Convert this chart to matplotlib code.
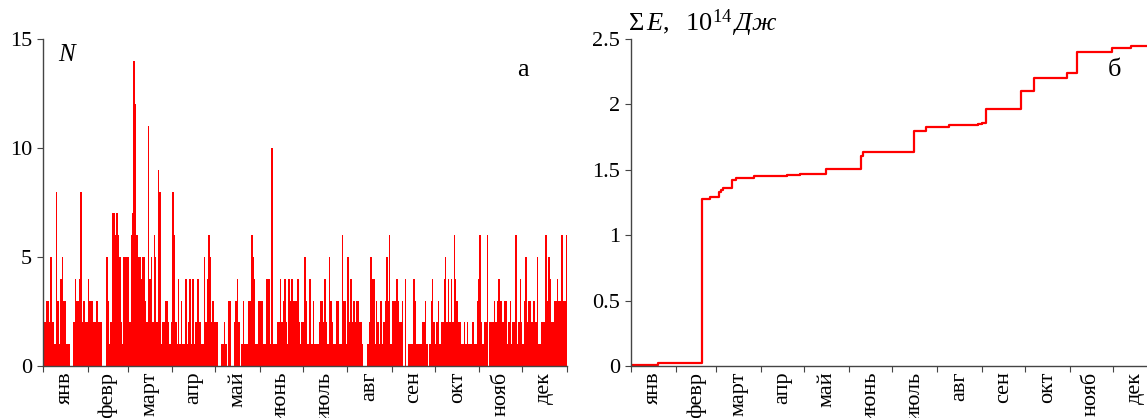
import matplotlib
matplotlib.use("Agg")
import matplotlib.pyplot as plt
import numpy as np

plt.rcParams['font.family'] = ['Liberation Serif', 'DejaVu Serif']
plt.rcParams['mathtext.fontset'] = 'custom'
plt.rcParams['mathtext.rm'] = 'Liberation Serif'
plt.rcParams['mathtext.it'] = 'Liberation Serif:italic'

months = ["янв", "февр", "март", "апр", "май", "июнь",
          "июль", "авг", "сен", "окт", "нояб", "дек"]
month_days = [31, 28, 31, 30, 31, 30, 31, 31, 30, 31, 30, 31]

# daily number of events N
n_jan = [2, 2, 3, 3, 2, 5, 2, 2, 1, 8, 3, 1, 4, 5, 3, 3, 1, 1, 1, 0,
         0, 2, 4, 3, 3, 4, 8, 2, 3, 2, 2]
n_feb = [4, 3, 3, 3, 2, 2, 3, 2, 2, 2, 0, 0, 0, 5, 3, 1, 2, 7, 7, 6,
         7, 6, 5, 2, 1, 5, 5, 5]
n_mar = [5, 2, 6, 7, 14, 12, 6, 5, 5, 4, 5, 5, 3, 2, 11, 4, 5, 2, 6, 5,
         2, 9, 8, 1, 2, 2, 3, 3, 2, 1, 2]
n_apr = [8, 6, 2, 1, 4, 1, 3, 1, 1, 4, 1, 2, 4, 1, 4, 1, 2, 4, 4, 2,
         1, 1, 5, 2, 4, 6, 5, 2, 3, 2]
n_may = [2, 2, 0, 0, 1, 1, 2, 1, 0, 3, 3, 0, 0, 2, 3, 4, 2, 0, 1, 3,
         1, 1, 1, 3, 3, 6, 5, 4, 1, 1, 3]
n_jun = [3, 3, 1, 1, 4, 4, 4, 1, 10, 1, 1, 1, 2, 2, 4, 2, 3, 4, 2, 1,
         4, 3, 4, 3, 3, 3, 4, 2, 1, 2]
n_jul = [2, 5, 3, 1, 4, 4, 1, 3, 1, 1, 1, 2, 3, 3, 2, 4, 2, 1, 5, 3,
         2, 1, 1, 3, 3, 1, 1, 6, 3, 3, 1]
n_aug = [5, 2, 4, 2, 3, 2, 3, 3, 2, 2, 1, 0, 0, 0, 1, 2, 5, 4, 4, 1,
         3, 2, 1, 3, 1, 2, 3, 5, 3, 6, 1]
n_sep = [3, 3, 3, 4, 3, 2, 2, 3, 0, 4, 0, 1, 1, 1, 1, 4, 3, 1, 1, 1,
         1, 2, 2, 3, 1, 0, 1, 3, 4, 2]
n_oct = [1, 2, 3, 1, 2, 2, 4, 5, 2, 4, 2, 4, 2, 6, 4, 3, 2, 2, 1, 1,
         2, 1, 2, 1, 1, 1, 2, 1, 1, 3, 4]
n_nov = [6, 2, 1, 2, 2, 6, 0, 2, 2, 2, 3, 2, 3, 4, 3, 3, 2, 3, 3, 1,
         2, 3, 1, 2, 2, 6, 1, 2, 4, 2]
n_dec = [1, 3, 5, 2, 3, 3, 2, 3, 3, 2, 5, 1, 1, 2, 2, 2, 6, 3, 5, 4,
         2, 2, 3, 3, 4, 3, 3, 6, 3, 3, 6]

# cumulative energy, 10^14 J (step changes)
e_day = [0, 19, 49, 55, 61, 62, 64, 70, 73, 85, 108, 117, 135, 159, 161,
         196, 204, 220, 240, 243, 246, 270, 279, 302, 309, 333, 346, 365]
e_sum = [0.005, 0.02, 1.28, 1.29, 1.33, 1.345, 1.36, 1.42, 1.44, 1.45,
         1.46, 1.47, 1.505, 1.605, 1.635, 1.795, 1.83, 1.84, 1.848, 1.86,
         1.965, 2.105, 2.205, 2.24, 2.40, 2.435, 2.45, 2.45]

n_daily = (n_jan + n_feb + n_mar + n_apr + n_may + n_jun +
           n_jul + n_aug + n_sep + n_oct + n_nov + n_dec)
days = np.arange(len(n_daily))
bounds = np.concatenate([[0], np.cumsum(month_days)])
centers = (bounds[:-1] + bounds[1:]) / 2

fig = plt.figure(figsize=(11.47, 4.18), dpi=100)
ax1 = fig.add_axes([43/1147, 52/418, 524/1147, 327/418])
ax2 = fig.add_axes([631/1147, 52/418, 527/1147, 327/418])

ax1.bar(days, n_daily, width=1.0, align='edge', color='#ff0000', linewidth=0)
ax1.set_xlim(0, 365)
ax1.set_ylim(0, 15)
ax1.set_yticks([0, 5, 10, 15])
ax1.text(0.029, 0.985, "N", transform=ax1.transAxes, fontsize=18,
         style='italic', va='top')
ax1.text(0.905, 0.94, "а", transform=ax1.transAxes, fontsize=19, va='top')

ax2.plot(e_day, e_sum, color='#ff0000', linewidth=1.6, drawstyle='steps-post')
ax2.set_xlim(0, 365)
ax2.set_ylim(0, 2.5)
ax2.set_yticks([0, 0.5, 1, 1.5, 2, 2.5])
ax2.set_yticklabels(["0", "0.5", "1", "1.5", "2", "2.5"])
ax2.text(-0.006, 1.0, r"$\Sigma\,E,\ \ 10^{14}\,\mathit{Дж}$",
         transform=ax2.transAxes, fontsize=19, va='bottom', ha='left')
ax2.text(0.905, 0.94, "б", transform=ax2.transAxes, fontsize=19, va='top')

for ax in (ax1, ax2):
    ax.spines['top'].set_visible(False)
    ax.spines['right'].set_visible(False)
    for s in ('left', 'bottom'):
        ax.spines[s].set_color('#444444')
        ax.spines[s].set_linewidth(1.0)
    ax.set_xticks(bounds)
    ax.set_xticklabels([])
    ax.set_xticks(centers, minor=True)
    ax.set_xticklabels(months, minor=True, rotation=90, fontsize=16)
    ax.tick_params(axis='x', which='major', length=4, direction='out',
                   color='#444444')
    ax.tick_params(axis='x', which='minor', length=0, pad=4)
    ax.tick_params(axis='y', length=4, labelsize=16, color='#444444', pad=4)

fig.savefig("out.png", dpi=100)
